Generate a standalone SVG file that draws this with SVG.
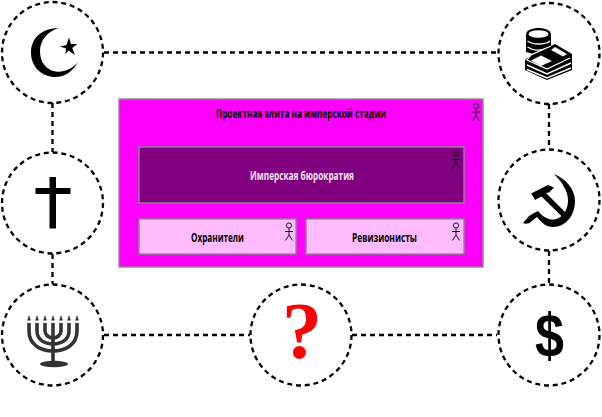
<svg xmlns="http://www.w3.org/2000/svg" width="602" height="417" viewBox="0 0 602 417">
<defs>
<style>
.ring{fill:#fff;stroke:#000;stroke-width:2.300;stroke-dasharray:5 3.800}
.link{fill:none;stroke:#000;stroke-width:2.300;stroke-dasharray:5 4}
.lbl{font-family:"Open Sans","Liberation Sans",sans-serif;font-weight:700;font-size:13px;text-anchor:middle}
.box{stroke:#8a8a8a;stroke-width:1.400}
.actor{fill:none;stroke:#000;stroke-width:.9}
</style>
<g id="actor"><circle class="actor" cx="0" cy="0" r="2.600"/><path class="actor" d="M0 2.600V9.500M-4 6H4M-3.600 15L0 9.500L3.600 15"/></g>
</defs>
<rect width="602" height="417" fill="#fff"/>
<g id="connectors">
<path class="link" d="M104 52.500H497"/>
<path class="link" d="M52.500 103V152"/>
<path class="link" d="M52.500 254V284"/>
<path class="link" d="M549 104V149"/>
<path class="link" d="M549 251V284"/>
<path class="link" d="M104 335H250"/>
<path class="link" d="M352 335H497"/>
</g>
<g id="node-islam">
<circle class="ring" cx="52.500" cy="52.500" r="50.500"/>
<path d="M58.500 28.300C42 28 31 38 31 52.500C31 68 43 77 55 77C65 77 73 71 78 62C72 69 64 72.500 56 71.500C46 70 40 62 40 51C40 40 48 31 58.500 28.300Z"/>
<polygon points="69,37.500 71,44 77.300,44 72.200,48 75,55 68.500,50.500 65.500,54 66,48.500 60,46.500 66.500,45"/>
</g>
<g id="node-money">
<circle class="ring" cx="549" cy="53.500" r="50.500"/>
<path d="M526 35C526 30 532 28 538.500 28C545 28 551 30 551 35V46L541 56L526 52Z"/>
<ellipse cx="538.500" cy="34" rx="10" ry="3.800" fill="#fff"/>
<path d="M527.500 41C533 45 545 45 550 41M527.500 47C533 51 541 51 547 48" fill="none" stroke="#fff" stroke-width="1.300"/>
<polygon points="555,44 572,54 572,70 547,80 525,70 525,60 531,55"/>
<path d="M551 46L531 55L527 60L547 69L570 58" fill="none" stroke="#fff" stroke-width="1.200"/>
<polygon points="555,47 567,54 563,56.500 551,50" fill="#fff"/>
<polygon points="541,55.500 552,61 541,66 531,60.500" fill="#fff"/>
<path d="M527 65L547 74L571 63M527 69.500L547 78L571 68" fill="none" stroke="#fff" stroke-width="1.500"/>
</g>
<g id="node-christ">
<circle class="ring" cx="52.500" cy="203" r="50.500"/>
<rect x="49.500" y="177" width="6.500" height="51.500"/>
<rect x="35.500" y="188" width="35" height="6"/>
</g>
<g id="node-communism">
<circle class="ring" cx="549" cy="200" r="50.500"/>
<path d="M554 174C566 179 575 189 575 201C575 215 566 227 553 227C546 227 542 223 537 217L530 222.500C528 224 525 224 523 223L529 216L535 212.500L538 211C543 217 548 220 554 219.500C563 218 568 210 568 200C568 191 562 182 554 174Z"/>
<path d="M533.500 197L531 193.500L548 185L554 187.500L549 192.500L546 193L570 217L566.500 221L541.500 196.500L535 200Z"/>
</g>
<g id="node-judaism">
<circle class="ring" cx="52.500" cy="335" r="50.500"/>
<g fill="none" stroke="#333" stroke-width="3.600">
<path d="M29 323V331C29 345 41 351 53 351C65 351 77 345 77 331V323"/>
<path d="M37 323V331C37 340 45 344 53 344C61 344 69 340 69 331V323"/>
<path d="M45 323V331C45 335 49 338 53 338C57 338 61 335 61 331V323"/>
<path d="M53 323V362"/>
</g>
<ellipse cx="54" cy="364" rx="14" ry="3.200" fill="#333"/>
<path d="M29 315l1.800 5.500h-3.600ZM37 315l1.800 5.500h-3.600ZM45 315l1.800 5.500h-3.600ZM53 315l1.800 5.500h-3.600ZM61 315l1.800 5.500h-3.600ZM69 315l1.800 5.500h-3.600ZM77 315l1.800 5.500h-3.600Z" fill="#333"/>
</g>
<g id="node-unknown">
<circle class="ring" cx="301" cy="335" r="50.500"/>
<text x="302" y="358" font-family="'Liberation Serif',serif" font-weight="700" font-size="80" fill="#f00" text-anchor="middle">?</text>
</g>
<g id="node-dollar">
<circle class="ring" cx="549" cy="335" r="50.500"/>
<text x="0" y="0" transform="translate(549.500 355.500) scale(.84 1)" font-family="'Liberation Sans',sans-serif" font-weight="700" font-size="62" fill="#000" text-anchor="middle">$</text>
</g>
<g id="node-elite">
<rect class="box" x="119" y="99" width="364" height="168" fill="#f0f"/>
<text class="lbl" x="301" y="117.500" textLength="170" lengthAdjust="spacingAndGlyphs">Проектная элита на имперской стадии</text>
<use href="#actor" x="476" y="106"/>
</g>
<g id="node-bureaucracy">
<rect class="box" x="139" y="147" width="325" height="56" fill="#800080"/>
<text class="lbl" x="302" y="179.500" fill="#f4e4f4" textLength="104" lengthAdjust="spacingAndGlyphs">Имперская бюрократия</text>
<use href="#actor" x="456" y="153.500"/>
</g>
<g id="node-guardians">
<rect class="box" x="139" y="219" width="157" height="35" fill="#ffbbff"/>
<text class="lbl" x="217.500" y="241.500" textLength="53" lengthAdjust="spacingAndGlyphs">Охранители</text>
<use href="#actor" x="289" y="225.500"/>
</g>
<g id="node-revisionists">
<rect class="box" x="306" y="219" width="158" height="35" fill="#ffbbff"/>
<text class="lbl" x="384.500" y="241.500" textLength="65" lengthAdjust="spacingAndGlyphs">Ревизионисты</text>
<use href="#actor" x="456" y="225.500"/>
</g>
</svg>
